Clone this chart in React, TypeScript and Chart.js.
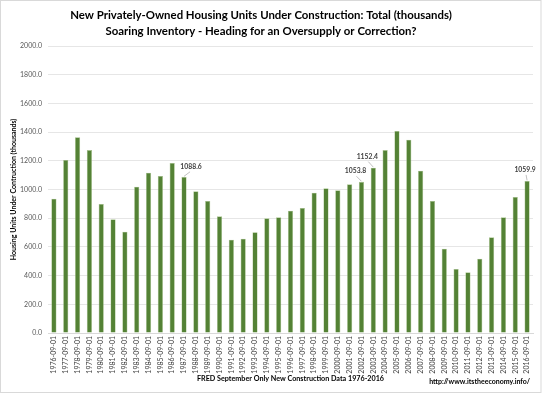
import React, { useEffect, useRef } from "react";
import { Chart, registerables } from "chart.js";

Chart.register(...registerables);

const years: number[] = [];
for (let y = 1976; y <= 2016; y++) years.push(y);
const categories = years.map((y) => `${y}-09-01`);

const unitsUnderConstruction = [
  936, 1206, 1364, 1275, 899, 792, 706, 1020, 1117, 1094, 1185, 1088.6, 987, 920,
  813, 650, 657, 702, 799, 806, 852, 871, 978, 1008, 994, 1036, 1053.8, 1152.4,
  1275, 1408, 1347, 1131, 920, 587, 446, 423, 518, 667, 806, 948, 1059.9,
];

const yTickMax = 2000;
const yTickStep = 200;

const titleLines = [
  "New Privately-Owned Housing Units Under Construction: Total (thousands)",
  "Soaring Inventory - Heading for an Oversupply or Correction?",
];
const yAxisTitle = "Housing Units Under Contruction (thousands)";
const xAxisTitle = "FRED September Only New Construction Data 1976-2016";
const sourceUrl = "http://www.itstheeconomy.info/";

// indices of bars carrying a value label
const labeledIndices = [11, 26, 27, 40];
// label placement relative to bar top (style)
const labelOffsets = [
  { dx: 7, dy: -10 },
  { dx: -6, dy: -10.5 },
  { dx: -6, dy: -11 },
  { dx: -2, dy: -11 },
];

const FONT = "Lato, 'Open Sans', 'Liberation Sans', sans-serif";

const decorPlugin = {
  id: "decor",
  beforeDraw(chart: any) {
    const ctx = chart.ctx;
    ctx.save();
    ctx.fillStyle = "#ffffff";
    ctx.fillRect(0, 0, chart.width, chart.height);
    ctx.restore();
  },
  afterDraw(chart: any) {
    const ctx = chart.ctx;
    const area = chart.chartArea;
    ctx.save();
    // outer border
    ctx.strokeStyle = "#d9d9d9";
    ctx.lineWidth = 1;
    ctx.strokeRect(0.5, 0.5, chart.width - 1.5, chart.height - 1);

    // titles
    ctx.fillStyle = "#000000";
    ctx.textAlign = "center";
    ctx.textBaseline = "middle";
    ctx.font = `bold 11.4px ${FONT}`;
    ctx.fillText(titleLines[0], 261, 15);
    ctx.fillText(titleLines[1], 261, 31);

    // x-axis title
    ctx.font = `bold 7.2px ${FONT}`;
    ctx.fillStyle = "#000000";
    ctx.fillText(xAxisTitle, (area.left + area.right) / 2, 379);

    // url
    ctx.textAlign = "right";
    ctx.font = `bold 7px ${FONT}`;
    ctx.fillText(sourceUrl, 530, 382);

    // value labels
    const meta = chart.getDatasetMeta(0);
    ctx.font = `bold 6.8px ${FONT}`;
    ctx.fillStyle = "#404040";
    ctx.textAlign = "center";
    labeledIndices.forEach((idx, k) => {
      const el = meta.data[idx];
      const off = labelOffsets[k];
      const lx = el.x + off.dx;
      const ly = el.y + off.dy;
      ctx.strokeStyle = "#a6a6a6";
      ctx.lineWidth = 0.7;
      ctx.beginPath();
      ctx.moveTo(el.x, el.y - 0.5);
      ctx.lineTo(lx + (off.dx > 0 ? -1 : 1), ly + 5);
      ctx.stroke();
      ctx.fillText(unitsUnderConstruction[idx].toFixed(1), lx, ly);
    });
    ctx.restore();
  },
};

export default function App() {
  const ref = useRef<HTMLCanvasElement>(null);
  useEffect(() => {
    document.body.style.margin = "0";
    const canvas = ref.current!;
    const chart = new Chart(canvas, {
      type: "bar",
      data: {
        labels: categories,
        datasets: [
          {
            data: unitsUnderConstruction,
            backgroundColor: "#548235",
            borderColor: "#a9c48f",
            borderWidth: 0.6,
            barPercentage: 0.44,
            categoryPercentage: 1,
          },
        ],
      },
      options: {
        responsive: false,
        animation: false,
        layout: { padding: { top: 46, right: 9, bottom: 0, left: 0 } },
        plugins: {
          legend: { display: false },
          tooltip: { enabled: false },
          title: { display: false },
        },
        scales: {
          x: {
            grid: { display: false, drawTicks: false },
            border: { color: "#d9d9d9" },
            ticks: {
              autoSkip: false,
              maxRotation: 90,
              minRotation: 90,
              padding: 3,
              color: "#404040",
              font: { family: FONT, size: 7 },
            },
            afterFit(scale: any) {
              scale.height = 60;
            },
          },
          y: {
            min: 0,
            max: yTickMax,
            grid: { color: "#e6e6e6", drawTicks: false },
            border: { display: false },
            ticks: {
              stepSize: yTickStep,
              padding: 6,
              color: "#595959",
              font: { family: FONT, size: 7 },
              callback: (v: any) => Number(v).toFixed(1),
            },
            title: {
              display: true,
              text: yAxisTitle,
              color: "#000000",
              font: { family: FONT, size: 7, weight: "bold" },
              padding: { top: 10, bottom: 0 },
            },
            afterFit(scale: any) {
              scale.width = 48;
            },
          },
        },
      },
      plugins: [decorPlugin],
    } as any);
    return () => chart.destroy();
  }, []);
  return (
    <canvas
      ref={ref}
      width={542}
      height={393}
      style={{ display: "block", width: 542, height: 393 }}
    />
  );
}
